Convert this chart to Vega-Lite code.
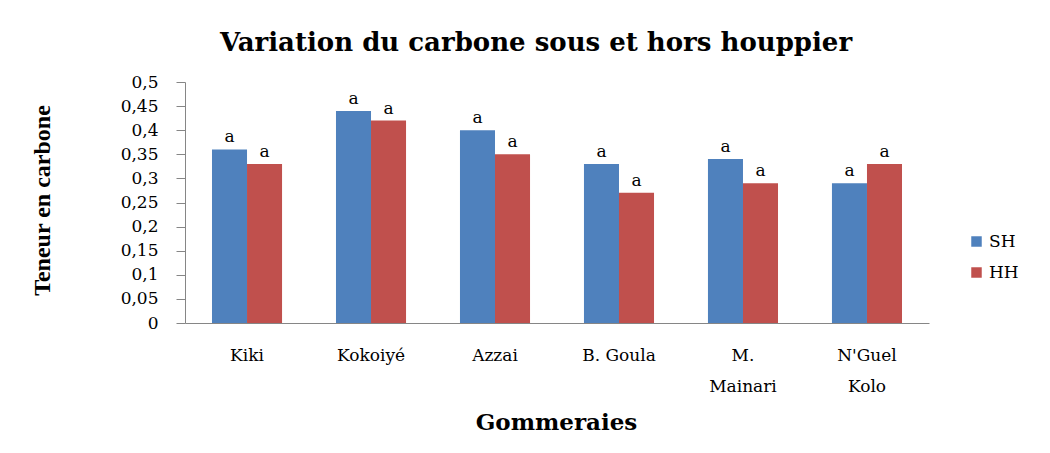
{
  "$schema": "https://vega.github.io/schema/vega-lite/v6.json",
  "width": 744,
  "height": 241,
  "autosize": {"type": "none"},
  "padding": {"left": 185, "top": 82, "right": 121, "bottom": 130},
  "background": "white",
  "title": {
    "text": "Variation du carbone sous et hors houppier",
    "font": "DejaVu Serif",
    "fontSize": 26,
    "fontWeight": "bold",
    "color": "black",
    "anchor": "middle",
    "dx": -21,
    "offset": 17
  },
  "data": {
    "values": [
      {"Gommeraie": "Kiki", "Type": "SH", "Teneur": 0.36},
      {"Gommeraie": "Kiki", "Type": "HH", "Teneur": 0.33},
      {"Gommeraie": "Kokoiyé", "Type": "SH", "Teneur": 0.44},
      {"Gommeraie": "Kokoiyé", "Type": "HH", "Teneur": 0.42},
      {"Gommeraie": "Azzai", "Type": "SH", "Teneur": 0.40},
      {"Gommeraie": "Azzai", "Type": "HH", "Teneur": 0.35},
      {"Gommeraie": "B. Goula", "Type": "SH", "Teneur": 0.33},
      {"Gommeraie": "B. Goula", "Type": "HH", "Teneur": 0.27},
      {"Gommeraie": "M. Mainari", "Type": "SH", "Teneur": 0.34},
      {"Gommeraie": "M. Mainari", "Type": "HH", "Teneur": 0.29},
      {"Gommeraie": "N'Guel Kolo", "Type": "SH", "Teneur": 0.29},
      {"Gommeraie": "N'Guel Kolo", "Type": "HH", "Teneur": 0.33}
    ]
  },
  "encoding": {
    "x": {
      "field": "Gommeraie",
      "type": "nominal",
      "sort": null,
      "scale": {"paddingInner": 0.435, "paddingOuter": 0.2177},
      "axis": {
        "title": "Gommeraies",
        "titleFont": "DejaVu Serif",
        "titleFontSize": 23,
        "titleFontWeight": "bold",
        "titleColor": "black",
        "titleX": 371,
        "titleY": 99,
        "titleBaseline": "middle",
        "titleAlign": "center",
        "labelFont": "DejaVu Serif",
        "labelFontSize": 17,
        "labelColor": "black",
        "labelAngle": 0,
        "labelPadding": 24,
        "labelLineHeight": 31,
        "labelExpr": "indexof(['M. Mainari', \"N'Guel Kolo\"], datum.value) >= 0 ? split(datum.value, ' ') : datum.value",
        "ticks": false,
        "domainColor": "#868686",
        "grid": false
      }
    },
    "xOffset": {"field": "Type", "type": "nominal", "sort": ["SH", "HH"]},
    "y": {
      "field": "Teneur",
      "type": "quantitative",
      "scale": {"domain": [0, 0.5], "nice": false},
      "axis": {
        "title": "Teneur en carbone",
        "titleFont": "Liberation Serif",
        "titleFontSize": 24,
        "titleFontWeight": "bold",
        "titleColor": "black",
        "titleAngle": -90,
        "titleX": -143,
        "titleY": 118,
        "titleAlign": "center",
        "titleBaseline": "middle",
        "values": [0, 0.05, 0.1, 0.15, 0.2, 0.25, 0.3, 0.35, 0.4, 0.45, 0.5],
        "labelExpr": "replace(format(datum.value, '.2~f'), '.', ',')",
        "labelFont": "DejaVu Serif",
        "labelFontSize": 17,
        "labelColor": "black",
        "labelPadding": 18,
        "tickSize": 9,
        "tickColor": "#868686",
        "domainColor": "#868686",
        "grid": false
      }
    },
    "color": {
      "field": "Type",
      "type": "nominal",
      "sort": ["SH", "HH"],
      "scale": {"domain": ["SH", "HH"], "range": ["#4F81BD", "#C0504D"]},
      "legend": {
        "title": null,
        "orient": "none",
        "legendX": 783,
        "legendY": 151,
        "symbolType": "square",
        "symbolSize": 110,
        "symbolStrokeWidth": 0,
        "labelFont": "DejaVu Serif",
        "labelFontSize": 17,
        "labelColor": "black",
        "rowPadding": 13
      }
    }
  },
  "layer": [
    {"mark": {"type": "bar"}},
    {
      "mark": {"type": "text", "baseline": "bottom", "dy": -3, "font": "DejaVu Serif", "fontSize": 17, "color": "black"},
      "encoding": {"text": {"value": "a"}, "color": {"value": "black"}}
    }
  ],
  "config": {"view": {"stroke": null}}
}
